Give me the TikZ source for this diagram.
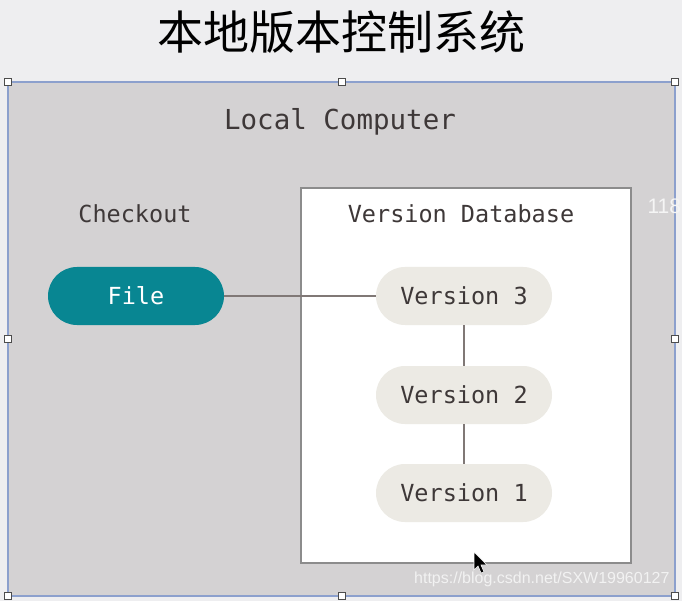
\documentclass[tikz,border=0pt]{standalone}
\usepackage{fontspec}
\setmainfont{Liberation Sans}
\setmonofont{DejaVu Sans Mono}
\newfontfamily\cjk{Noto Sans CJK SC}
\usepackage{tikz}

\definecolor{pagebg}{RGB}{238,238,240}
\definecolor{localbg}{RGB}{212,210,211}
\definecolor{selblue}{RGB}{140,160,205}
\definecolor{fileteal}{RGB}{8,134,146}
\definecolor{verfill}{RGB}{236,234,228}
\definecolor{textdark}{RGB}{62,56,56}
\definecolor{linkgray}{RGB}{128,120,118}
\definecolor{boxgray}{RGB}{140,140,140}

\tikzset{
    pill/.style={rectangle, rounded corners=29pt, minimum width=176pt,
        minimum height=58pt, inner sep=0pt, font=\ttfamily\fontsize{23.5}{26}\selectfont},
    filepill/.style={pill, fill=fileteal, text=white},
    verpill/.style={pill, fill=verfill, text=textdark},
    caption/.style={text=textdark, font=\ttfamily\fontsize{23.5}{26}\selectfont},
    handle/.style={draw=black!70, fill=white, line width=0.8pt,
        minimum size=7pt, inner sep=0pt},
    link/.style={draw=linkgray, line width=1.5pt}
}

\begin{document}
\begin{tikzpicture}[x=1pt, y=-1pt]

    \useasboundingbox (0,0) rectangle (682,601);
    \fill[pagebg] (0,0) rectangle (682,601);

    % title
    \node (title) at (341,32) {\cjk\fontsize{46}{50}\selectfont 本地版本控制系统};

    % local computer area
    \draw[selblue, line width=2pt, fill=localbg] (8,82) rectangle (675,596);
    \node[caption, font=\ttfamily\fontsize{27.5}{30}\selectfont] (local) at (340,122) {Local Computer};
    \node[caption] (checkout) at (135,214) {Checkout};

    % version database
    \draw[boxgray, line width=2pt, fill=white] (301,188) rectangle (631,563);
    \node[caption] (db) at (461,214) {Version Database};

    \node[filepill] (file) at (136,296) {File};
    \node[verpill] (v3) at (464,296) {Version 3};
    \node[verpill] (v2) at (464,395) {Version 2};
    \node[verpill] (v1) at (464,493) {Version 1};

    \path[link] (file) edge (v3);
    \path[link] (v3) edge (v2);
    \path[link] (v2) edge (v1);

    % screen leftovers
    \node[text=white!92!gray, anchor=west, font=\fontsize{21}{24}\selectfont] (cut) at (644,206) {1183};
    \node[text=white!90!gray, anchor=south east, font=\fontsize{16}{19}\selectfont] (mark) at (673,590) {https://blog.csdn.net/SXW19960127};
    \fill[black, draw=white, line width=0.6pt] (474,552) -- (474,570) -- (478,566) -- (481,573) -- (484,572) -- (481,565) -- (487,565) -- cycle;

    % selection handles
    \foreach \hx/\hy in {8/82, 342/82, 675/82, 8/339, 675/339, 8/596, 342/596, 675/596}
        \node[handle] at (\hx,\hy) {};

\end{tikzpicture}
\end{document}
